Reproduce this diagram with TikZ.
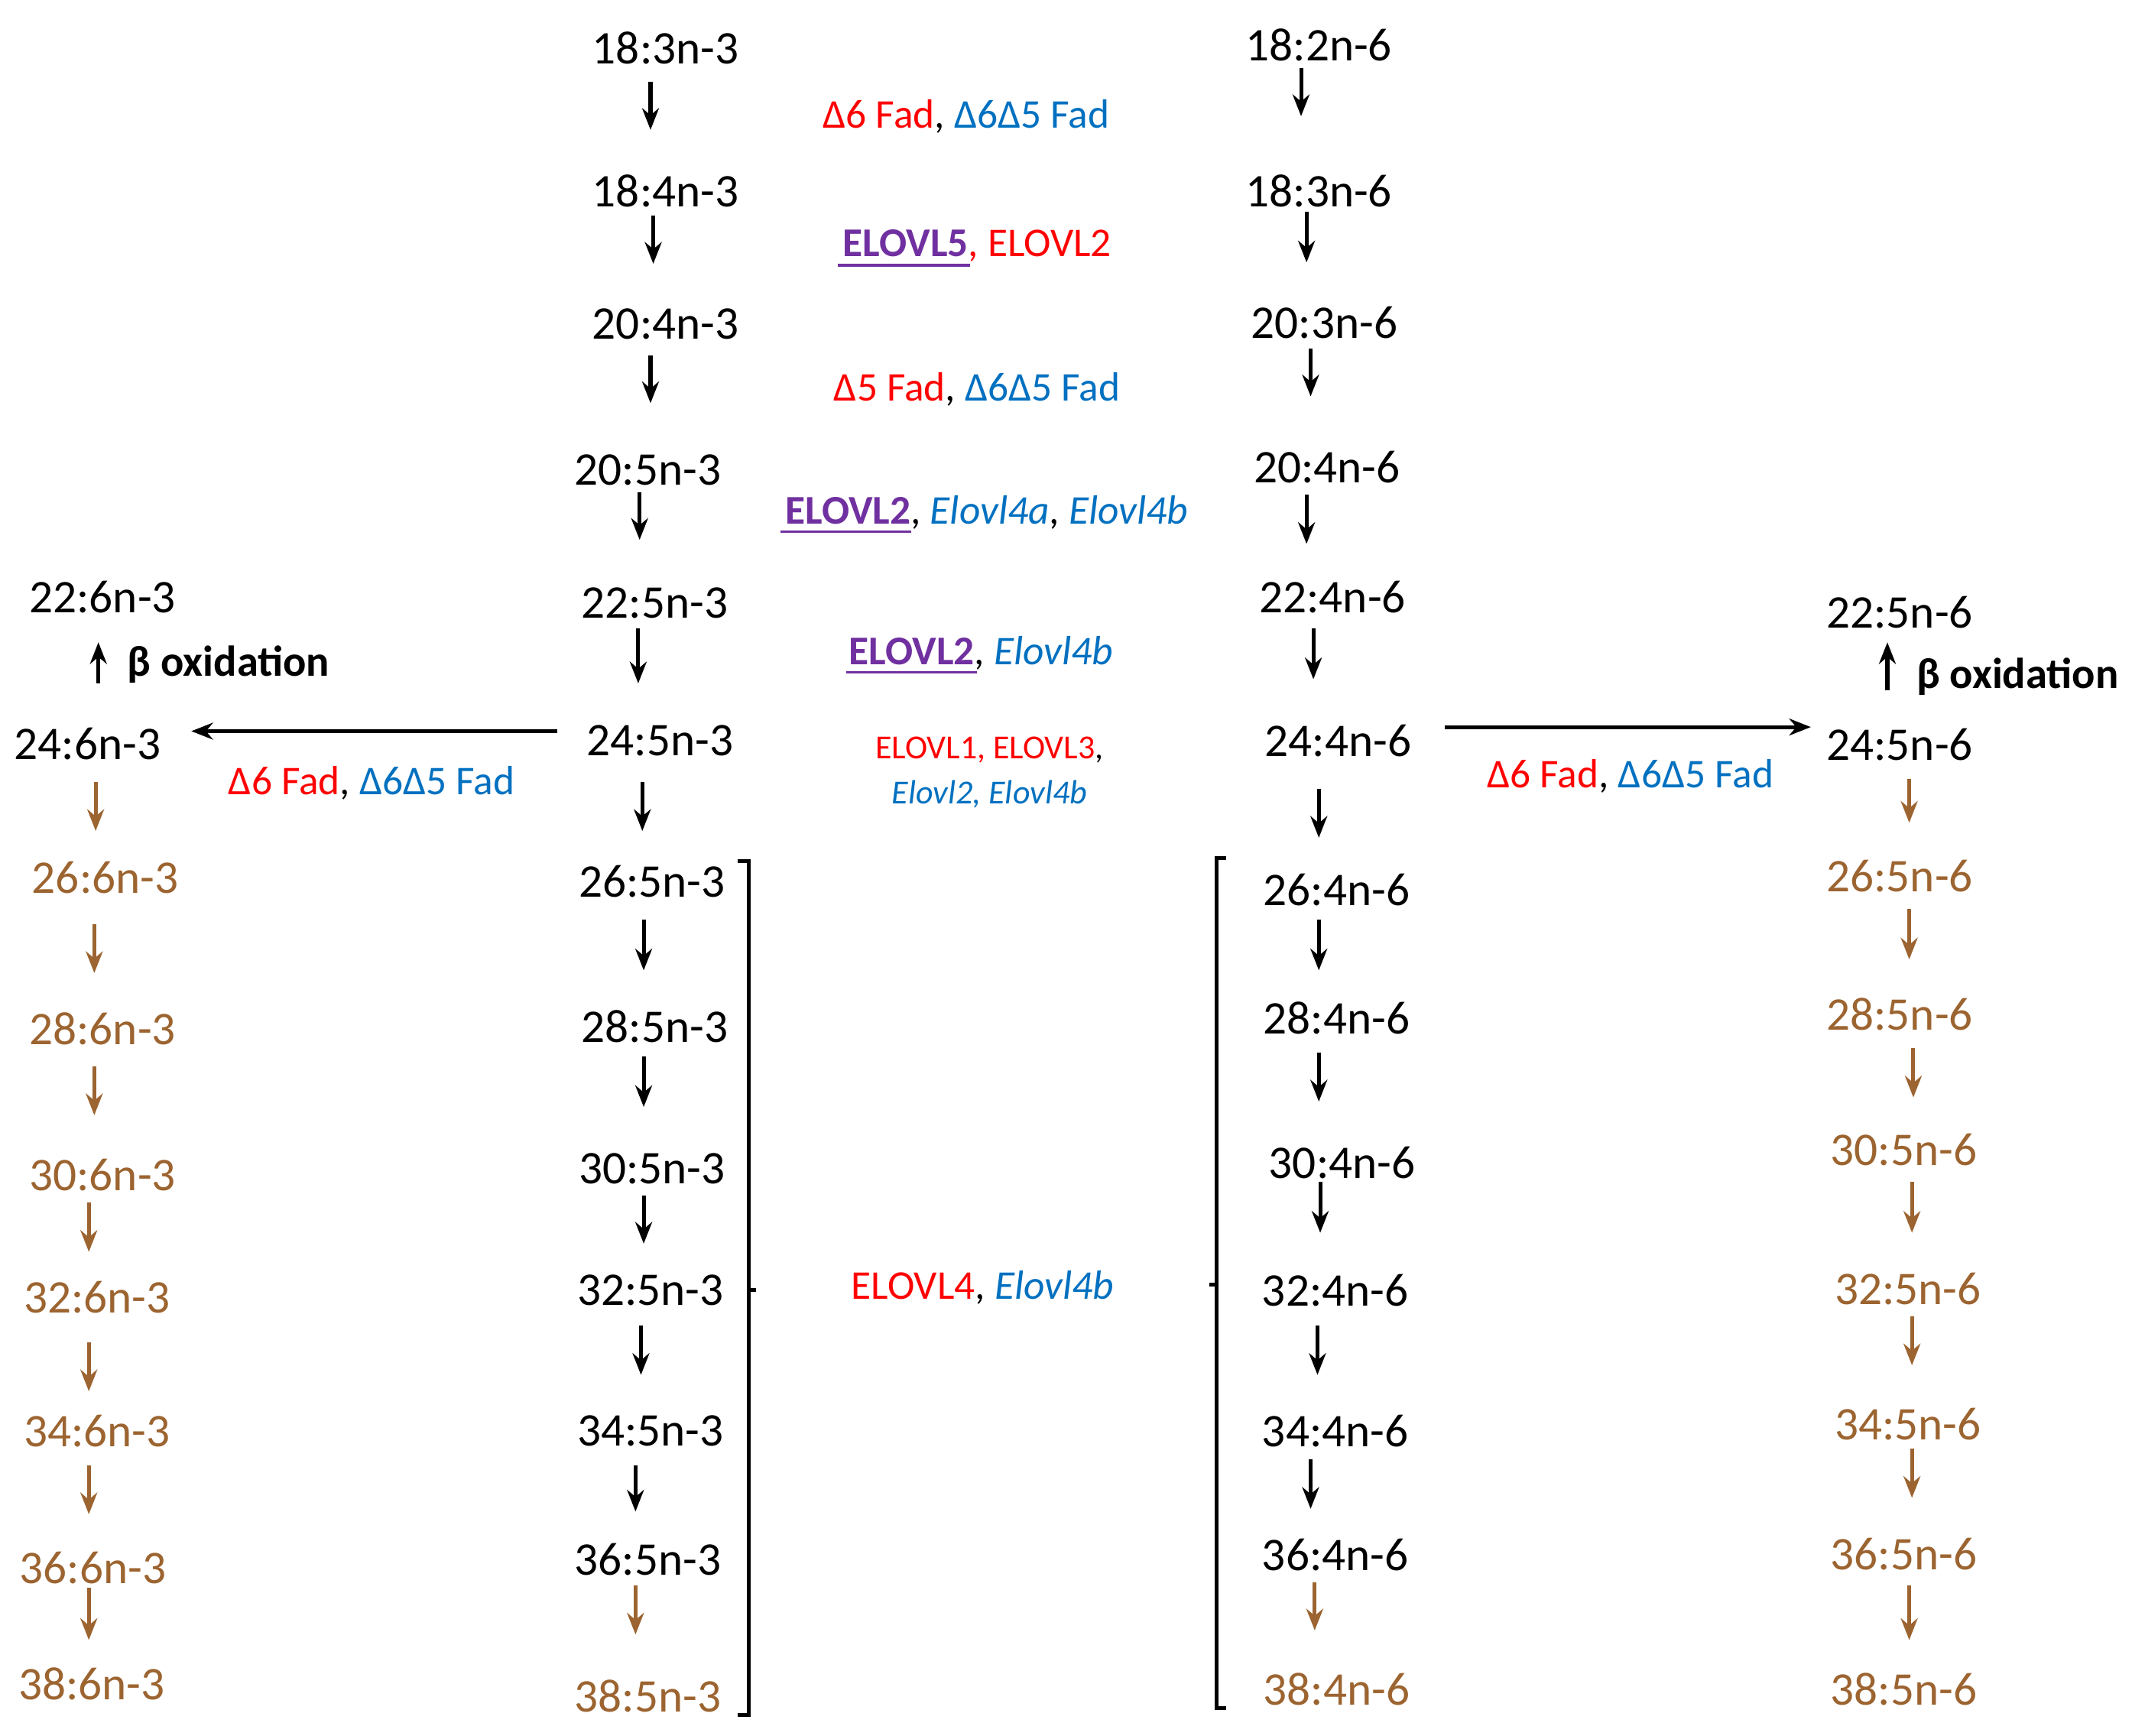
\documentclass[tikz,border=0pt]{standalone}
\usepackage{fontspec}
\setmainfont{Carlito}
\usetikzlibrary{arrows.meta}
\definecolor{cred}{HTML}{FF0000}
\definecolor{cblue}{HTML}{0070C0}
\definecolor{cpurple}{HTML}{7030A0}
\definecolor{cbrown}{HTML}{9C6430}
\begin{document}
\begin{tikzpicture}[x=0.02cm,y=-0.02cm,
  fa/.style={font=\fontsize{19.5}{23}\selectfont, inner sep=0pt},
  fb/.style={fa, text=cbrown},
  enz/.style={font=\fontsize{17}{20}\selectfont, inner sep=0pt},
  sm/.style={font=\fontsize{14}{17}\selectfont, inner sep=0pt},
  arr/.style={-{Stealth[length=9pt,width=7pt]}, line width=1.6pt},
  barr/.style={arr, draw=cbrown},
  brk/.style={line width=1.6pt}]
\fill[white] (0,0) rectangle (1560,1270);
% middle n-3 column
\foreach \n/\x/\y in {a1/487/35,a2/487/140,a3/487/237,a4/474/344,a5/479/441,a6/483/542,a7/477/645,a8/479/751,a9/477/855,a10/476/944,a11/476/1047,a12/474/1141}
  \node[fa] (\n) at (\x,\y) {};
\node[fa] at (487,35) {18:3n-3};
\node[fa] at (487,140) {18:4n-3};
\node[fa] at (487,237) {20:4n-3};
\node[fa] at (474,344) {20:5n-3};
\node[fa] at (479,441) {22:5n-3};
\node[fa] at (483,542) {24:5n-3};
\node[fa] at (477,645) {26:5n-3};
\node[fa] at (479,751) {28:5n-3};
\node[fa] at (477,855) {30:5n-3};
\node[fa] at (476,944) {32:5n-3};
\node[fa] at (476,1047) {34:5n-3};
\node[fa] at (474,1141) {36:5n-3};
\node[fb] at (474,1241) {38:5n-3};
\foreach \x/\a/\b in {476/60/95,478/158/193,476/260/295,468/360/395,467/460/500,470/572/608,471/673/710,471/773/810,471/875/910,469/970/1006,465/1072/1106}
  \draw[arr] (\x,\a) -- (\x,\b);
\draw[barr] (465,1160) -- (465,1196);
% n-6 column
\node[fa] at (965,33) {18:2n-6};
\node[fa] at (965,140) {18:3n-6};
\node[fa] at (969,236) {20:3n-6};
\node[fa] at (971,342) {20:4n-6};
\node[fa] at (975,437) {22:4n-6};
\node[fa] at (979,542) {24:4n-6};
\node[fa] at (978,651) {26:4n-6};
\node[fa] at (978,745) {28:4n-6};
\node[fa] at (982,851) {30:4n-6};
\node[fa] at (977,944) {32:4n-6};
\node[fa] at (977,1047) {34:4n-6};
\node[fa] at (977,1138) {36:4n-6};
\node[fb] at (978,1236) {38:4n-6};
\foreach \x/\a/\b in {952/50/85,956/155/192,959/255/290,956/362/398,961/460/497,965/577/613,965/673/710,965/770/806,966/865/902,964/970/1006,959/1068/1104}
  \draw[arr] (\x,\a) -- (\x,\b);
\draw[barr] (962,1158) -- (962,1193);
% left column
\node[fa] at (75,437) {22:6n-3};
\draw[arr] (72,500) -- (72,470);
\node[enz, font=\fontsize{18}{21}\selectfont\bfseries, anchor=west] at (93,486) {β oxidation};
\node[fa] at (64,544) {24:6n-3};
\node[fb] at (77,642) {26:6n-3};
\node[fb] at (75,753) {28:6n-3};
\node[fb] at (75,860) {30:6n-3};
\node[fb] at (71,949) {32:6n-3};
\node[fb] at (71,1047) {34:6n-3};
\node[fb] at (68,1147) {36:6n-3};
\node[fb] at (67,1232) {38:6n-3};
\foreach \x/\a/\b in {70/572/608,69/676/712,69/780/816,65/880/916,65/982/1018,65/1072/1108,65/1162/1200}
  \draw[barr] (\x,\a) -- (\x,\b);
% right column
\node[fa] at (1390,448) {22:5n-6};
\draw[arr] (1381,505) -- (1381,470);
\node[enz, font=\fontsize{18}{21}\selectfont\bfseries, anchor=west] at (1402,495) {β oxidation};
\node[fa] at (1390,545) {24:5n-6};
\node[fb] at (1390,641) {26:5n-6};
\node[fb] at (1390,742) {28:5n-6};
\node[fb] at (1393,841) {30:5n-6};
\node[fb] at (1396,943) {32:5n-6};
\node[fb] at (1396,1042) {34:5n-6};
\node[fb] at (1393,1137) {36:5n-6};
\node[fb] at (1393,1236) {38:5n-6};
\foreach \x/\a/\b in {1397/570/602,1397/665/702,1400/767/803,1399/865/902,1399/963/999,1399/1060/1096,1397/1160/1200}
  \draw[barr] (\x,\a) -- (\x,\b);
% horizontal arrows
\draw[arr] (408,535) -- (140,535);
\draw[arr] (1057,532) -- (1325,532);
\node[enz] at (272,573) {\textcolor{cred}{Δ6 Fad}, \textcolor{cblue}{Δ6Δ5 Fad}};
\node[enz] at (1193,568) {\textcolor{cred}{Δ6 Fad}, \textcolor{cblue}{Δ6Δ5 Fad}};
% enzymes middle
\node[enz] at (707,85) {\textcolor{cred}{Δ6 Fad}, \textcolor{cblue}{Δ6Δ5 Fad}};
\node[enz] at (715,180) {\textcolor{cpurple}{\bfseries ELOVL5}\textcolor{cred}{, ELOVL2}};
\draw[cpurple, line width=1.2pt] (613,194) -- (710,194);
\node[enz] at (715,285) {\textcolor{cred}{Δ5 Fad}, \textcolor{cblue}{Δ6Δ5 Fad}};
\node[enz] at (722,375) {\textcolor{cpurple}{\bfseries ELOVL2}, \textcolor{cblue}{\itshape Elovl4a}, \textcolor{cblue}{\itshape Elovl4b}};
\draw[cpurple, line width=1.2pt] (571,389) -- (667,389);
\node[enz] at (718,478) {\textcolor{cpurple}{\bfseries ELOVL2}, \textcolor{cblue}{\itshape Elovl4b}};
\draw[cpurple, line width=1.2pt] (619,492) -- (715,492);
\node[sm] at (724,549) {\textcolor{cred}{ELOVL1, ELOVL3}, };
\node[sm] at (724,581) {\textcolor{cblue}{\itshape Elovl2, Elovl4b}};
\node[enz] at (719,942) {\textcolor{cred}{ELOVL4}, \textcolor{cblue}{\itshape Elovl4b}};
% brackets
\draw[brk] (540,630) -- (548,630) -- (548,1255) -- (540,1255);
\draw[brk] (548,944) -- (553,944);
\draw[brk] (897,628) -- (890,628) -- (890,1250) -- (897,1250);
\draw[brk] (890,940) -- (885,940);
\end{tikzpicture}
\end{document}
